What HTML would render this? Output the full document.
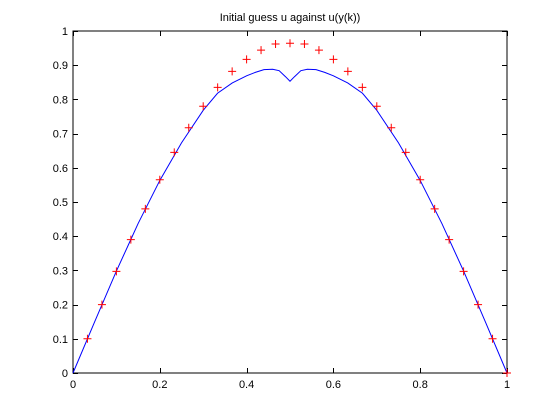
<!DOCTYPE html>
<html><head><meta charset="utf-8"><style>
html,body{margin:0;padding:0;background:#fff;}
svg{display:block;font-family:"Liberation Sans",Arial,sans-serif;}
</style></head><body>
<svg id="chart" width="560" height="419">
<rect width="560" height="419" fill="#fff"/>
<text x="290" y="21" font-size="11" text-anchor="middle">Initial guess u against u(y(k))</text>
<g id="axes"></g>
<g id="series"></g>
</svg>
<script>
const xTicks=[0,0.2,0.4,0.6,0.8,1];
const xTickLabels=["0","0.2","0.4","0.6","0.8","1"];
const yTicks=[0,0.1,0.2,0.3,0.4,0.5,0.6,0.7,0.8,0.9,1];
const yTickLabels=["0","0.1","0.2","0.3","0.4","0.5","0.6","0.7","0.8","0.9","1"];
const markerX=[0.0333,0.0667,0.1,0.1333,0.1667,0.2,0.2333,0.2667,0.3,0.3333,0.3667,0.4,0.4333,0.4667,0.5,0.5333,0.5667,0.6,0.6333,0.6667,0.7,0.7333,0.7667,0.8,0.8333,0.8667,0.9,0.9333,0.9667,1.0];
const markerY=[0.1,0.2,0.297,0.39,0.48,0.565,0.645,0.717,0.78,0.835,0.882,0.917,0.944,0.962,0.964,0.962,0.944,0.917,0.882,0.835,0.78,0.717,0.645,0.565,0.48,0.39,0.297,0.2,0.1,0.0];
const lineX=[0,0.05,0.1,0.15,0.2,0.25,0.3,0.333,0.367,0.4,0.42,0.44,0.46,0.475,0.49,0.5,0.51,0.525,0.54,0.56,0.58,0.6,0.633,0.667,0.7,0.75,0.8,0.85,0.9,0.95,1];
const lineY=[0,0.15,0.298,0.437,0.563,0.673,0.768,0.818,0.848,0.869,0.879,0.887,0.888,0.884,0.866,0.853,0.866,0.884,0.888,0.887,0.879,0.869,0.848,0.818,0.768,0.673,0.563,0.437,0.298,0.15,0];
const L=73,R=507,T=31,B=373;
const sx=v=>L+v*(R-L), sy=v=>B-v*(B-T);
const NS="http://www.w3.org/2000/svg";
const ax=document.getElementById('axes'), se=document.getElementById('series');
function mk(tag,attrs,parent){const e=document.createElementNS(NS,tag);for(const k in attrs)e.setAttribute(k,attrs[k]);parent.appendChild(e);return e;}
const box=mk('rect',{x:L,y:T,width:R-L,height:B-T,fill:'none',stroke:'#000','stroke-width':1},ax);


xTicks.forEach((v,i)=>{
  const x=Math.round(sx(v))+0.5;
  const t=mk('path',{d:`M${x},${B}V${B-5}M${x},${T}V${T+5}`,stroke:'#000','stroke-width':1},ax);
  
  
  const l=mk('text',{x:sx(v),y:B+15,'font-size':11,'text-anchor':'middle'},ax);
  l.textContent=xTickLabels[i];
  
  
});
yTicks.forEach((v,i)=>{
  const y=Math.round(sy(v))+0.5;
  const t=mk('path',{d:`M${L},${y}H${L+5}M${R},${y}H${R-5}`,stroke:'#000','stroke-width':1},ax);
  
  
  const l=mk('text',{x:L-5,y:sy(v)+4,'font-size':11,'text-anchor':'end'},ax);
  l.textContent=yTickLabels[i];
  
  
});
const pl=mk('polyline',{points:lineX.map((x,i)=>sx(x)+','+sy(lineY[i])).join(' '),fill:'none',stroke:'#0000ff','stroke-width':1},se);


markerX.forEach((x,i)=>{
  const cx=sx(x),cy=sy(markerY[i]);
  const m=mk('path',{d:`M${cx-4},${cy}H${cx+4}M${cx},${cy-4}V${cy+4}`,stroke:'#ff0000','stroke-width':1},se);
  
  
});
</script>
</body></html>
